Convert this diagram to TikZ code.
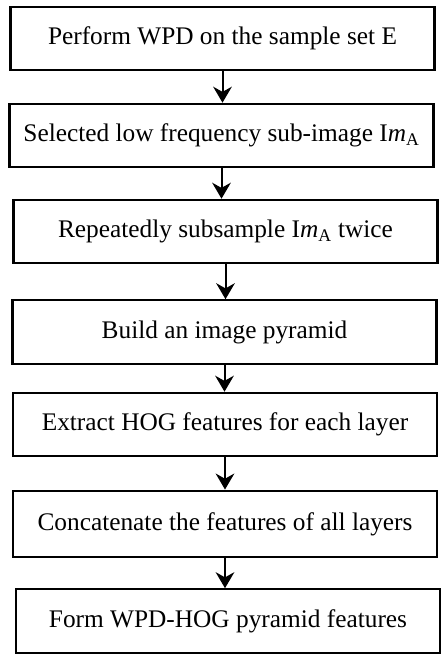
\documentclass[tikz,border=0pt]{standalone}
\usepackage{fontspec}
\setmainfont{Liberation Serif}
\usetikzlibrary{arrows.meta}

\tikzset{
  stepbox/.style={draw, line width=1.7pt, minimum width=318pt, minimum height=47.5pt,
    inner sep=0pt, font=\fontsize{19}{21}\selectfont},
  flow/.style={-{Stealth[length=12pt, width=14pt]}, line width=1.5pt}
}

\begin{document}
\begin{tikzpicture}[x=0.75pt, y=-0.75pt]
    % Ramme (bildets mål i piksler)
    \useasboundingbox (0,0) rectangle (447,661);

    % Trinn i metoden, ovenfra og ned
    \node[stepbox] (wpd)     at (222.5, 38.5) {Perform WPD on the sample set E};
    \node[stepbox] (select)  at (221.5,135.5) {Selected low frequency sub-image I\textit{m}\textsubscript{A}};
    \node[stepbox] (subsamp) at (225.5,231.5) {Repeatedly subsample I\textit{m}\textsubscript{A} twice};
    \node[stepbox] (pyramid) at (224.5,332)   {Build an image pyramid};
    \node[stepbox] (hog)     at (225,  424.5) {Extract HOG features for each layer};
    \node[stepbox, minimum height=50pt] (concat) at (225, 524) {Concatenate the features of all layers};
    \node[stepbox] (form)    at (228,  621)   {Form WPD-HOG pyramid features};

    % Piler mellom trinnene
    \draw[flow] (wpd.south)     -- (wpd.south |- select.north);
    \draw[flow] (select.south)  -- (select.south |- subsamp.north);
    \draw[flow] (subsamp.south) -- (subsamp.south |- pyramid.north);
    \draw[flow] (pyramid.south) -- (pyramid.south |- hog.north);
    \draw[flow] (hog.south)     -- (hog.south |- concat.north);
    \draw[flow] (concat.south)  -- (concat.south |- form.north);
\end{tikzpicture}
\end{document}
